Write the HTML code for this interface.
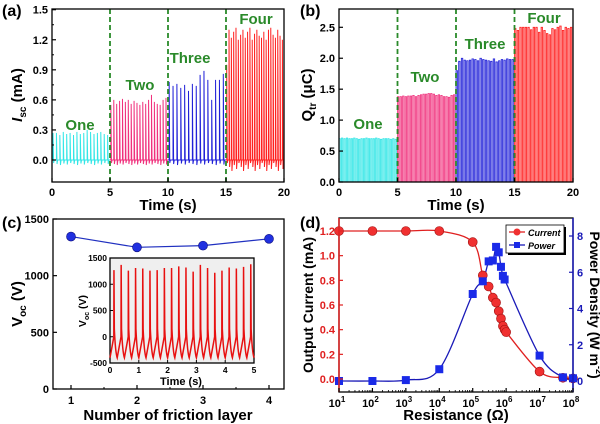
<!DOCTYPE html>
<html><head><meta charset="utf-8"><style>
body{margin:0;background:#fff}
svg{display:block;font-family:"Liberation Sans",sans-serif;font-weight:bold}
</style></head><body>
<svg id="s" width="600" height="424" viewBox="0 0 600 424"></svg>
<script>
// ---- data ----
const segA1=[0.27,0.27,0.25,0.28,0.26,0.27,0.25,0.28,0.26,0.27,0.30,0.28,0.26,0.27,0.28,0.26,0.25];
const segA2=[0.55,0.60,0.56,0.59,0.61,0.58,0.60,0.56,0.59,0.57,0.55,0.58,0.56,0.60,0.65,0.58,0.56,0.55,0.60,0.62];
const segA3=[0.78,0.74,0.76,0.72,0.75,0.69,0.76,0.74,0.85,0.89,0.80,0.60,0.80,0.80,0.86];
const segA4=[0.95,1.30,1.22,1.28,1.32,1.20,1.25,1.30,1.22,1.28,1.32,1.20,1.26,1.30,1.24,1.22,1.28,1.20,1.30,1.32,1.25,1.22,1.30,1.24,1.20];
const segB1=[0.70,0.71,0.70,0.71,0.70,0.70,0.71,0.70,0.69,0.70,0.70,0.71,0.70,0.70,0.70,0.71,0.70,0.69,0.70,0.70,0.70,0.69,0.70,0.69];
const segB2=[1.38,1.38,1.39,1.38,1.39,1.39,1.40,1.38,1.40,1.41,1.42,1.42,1.43,1.43,1.42,1.40,1.41,1.40,1.38,1.38,1.37,1.40,1.41];
const segB3=[1.80,1.95,2.00,1.97,1.96,1.97,1.99,1.98,1.96,2.00,1.98,1.97,1.96,1.95,1.99,1.94,1.96,1.98,1.97,1.99,1.98,1.98];
const segB4=[2.48,2.45,2.50,2.50,2.50,2.50,2.46,2.50,2.50,2.42,2.50,2.45,2.40,2.38,2.48,2.46,2.50,2.52,2.45,2.50,2.48,2.50];
const layers=[1,2,3,4];
const vocValues=[1345,1250,1265,1325];
const insetPeaks=[1270,1370,1260,1310,1300,1260,1270,1310,1310,1340,1320,1240,1370,1310,1220,1260,1320,1300,1330,1380];
const resCur=[10,100,1000,1e4,1e5,2e5,3e5,4e5,5e5,6e5,7e5,8e5,9e5,1e6,1e7,5e7,1e8];
const curVals=[1.2,1.2,1.2,1.2,1.11,0.84,0.75,0.66,0.62,0.55,0.49,0.43,0.40,0.38,0.06,0.01,0.005];
const resPow=[10,100,1000,1e4,1e5,2e5,3e5,4e5,5e5,6e5,7e5,8e5,9e5,1e7,5e7,1e8];
const powVals=[0,0,0.05,0.65,4.8,5.5,6.6,6.65,7.4,7.1,6.3,5.8,5.6,1.4,0.2,0.15];
const tickA=["0.0","0.3","0.6","0.9","1.2","1.5"];
const tickB=["0.0","0.5","1.0","1.5","2.0","2.5"];
const tickC=["0","500","1000","1500"];
const tickInY=["-500","0","500","1000","1500"];
const tickD=["0.0","0.2","0.4","0.6","0.8","1.0","1.2"];
const tickD2=["0","2","4","6","8"];

const S=document.getElementById('s');
const NS='http://www.w3.org/2000/svg';
function el(t,a,parent,txt){const e=document.createElementNS(NS,t);for(const k in a)e.setAttribute(k,a[k]);if(txt!==undefined)e.textContent=txt;(parent||S).appendChild(e);return e;}
function lin(d0,d1,p0,p1){return v=>p0+(v-d0)*(p1-p0)/(d1-d0);}
function text(x,y,s,size,anchor,fill,name,rot){const t=el('text',{x:x,y:y,'font-size':size,'text-anchor':anchor||'middle',fill:fill||'#000'},S,s);


if(rot)t.setAttribute('transform','rotate('+rot+' '+x+' '+y+')');return t;}
function box(x0,y0,x1,y1,name,fill){const r=el('rect',{x:x0,y:y0,width:x1-x0,height:y1-y0,fill:fill||'none',stroke:'#000','stroke-width':1.3});

return r;}
function path(d,stroke,w,name,extra){const p=el('path',Object.assign({d:d,fill:'none',stroke:stroke,'stroke-width':w},extra||{}));

return p;}
const cols=['#33e6e6','#f0307c','#2020d8','#ff2020'];
const green='#2a8a2a';

// ===== Panel A =====
(function(){
const X=lin(0,20,52,284),Y=lin(0,1.5,160,9.7);
const segs=[segA1,segA2,segA3,segA4];
segs.forEach((seg,i)=>{let d='';const n=seg.length;
 d+=`M${X(i*5)},${Y(0)}L${X(i*5+5)},${Y(0)}`;
 for(let k=0;k<n;k++){const t=i*5+(k+0.3)*5/n;const x=X(t);
  const neg=-0.03-0.02*((k*7)%5)/4*(i===3?4:1);
  d+=`M${x},${Y(0)}L${x},${Y(seg[k])}L${x+0.6},${Y(neg)}L${x+1.2},${Y(0)}`;}
 path(d,cols[i],1,'isc-series-'+(i+1));
});
[5,10,15].forEach(v=>path(`M${X(v)},9V182`,green,1.8,'divider-line',{'stroke-dasharray':'5,3'}));
box(52,9,284,182,'plot-a-frame');
tickA.forEach((s,i)=>{const v=parseFloat(s),y=Y(v);path(`M52,${y}h4`,'#000',1.2,'y-tick');text(48,y+4,s,11,'end','#000','y-tick-label');});
for(let v=0.15;v<1.5;v+=0.3)path(`M52,${Y(v)}h2`,'#000',1,'y-minor-tick');
[0,5,10,15,20].forEach(v=>{path(`M${X(v)},182v-4`,'#000',1.2,'x-tick');text(X(v),196,v,11,'middle','#000','x-tick-label');});
text(168,210,'Time (s)',15,'middle','#000','x-axis-title');
const t=text(22,95,'',15,'middle','#000','y-axis-title',-90);
t.innerHTML='<tspan font-style="italic">I</tspan><tspan font-size="10" dy="4">sc</tspan><tspan dy="-4"> (mA)</tspan>';
text(2,16,'(a)',16,'start','#000','panel-label-a');
text(80,130,'One',15,'middle',green,'label-one');
text(140,90,'Two',15,'middle',green,'label-two');
text(190,63,'Three',15,'middle',green,'label-three');
text(256,24,'Four',15,'middle',green,'label-four');
})();

// ===== Panel B =====
(function(){
const X=lin(0,20,339,573),Y=lin(0,2.5,182,27.3);
const segs=[segB1,segB2,segB3,segB4];
segs.forEach((seg,i)=>{let d='';const n=seg.length;const w=5/n;
 for(let k=0;k<n;k++){const x0=X(i*5+k*w),x1=X(i*5+(k+0.55)*w),x2=X(i*5+(k+1)*w);
  d+=`M${x0},${Y(0)}L${x0},${Y(seg[k])}L${x1},${Y(seg[k])}L${x1},${Y(0)}L${x2},${Y(0)}`;}
 const p=path(d,cols[i],0.8,'qtr-series-'+(i+1));p.setAttribute('fill',cols[i]);p.setAttribute('fill-opacity','0.35');
});
[5,10,15].forEach(v=>path(`M${X(v)},9V182`,green,1.8,'divider-line',{'stroke-dasharray':'5,3'}));
box(339,9,573,182,'plot-b-frame');
tickB.forEach(s=>{const y=Y(parseFloat(s));path(`M339,${y}h4`,'#000',1.2,'y-tick');text(335,y+4,s,11,'end','#000','y-tick-label');});
[0,5,10,15,20].forEach(v=>{path(`M${X(v)},182v-4`,'#000',1.2,'x-tick');text(X(v),196,v,11,'middle','#000','x-tick-label');});
text(456,210,'Time (s)',15,'middle','#000','x-axis-title');
const t=text(312,95,'',15,'middle','#000','y-axis-title',-90);
t.innerHTML='Q<tspan font-size="10" dy="4">tr</tspan><tspan dy="-4"> (μC)</tspan>';
text(300,16,'(b)',16,'start','#000','panel-label-b');
text(368,129,'One',15,'middle',green,'label-one');
text(425,82,'Two',15,'middle',green,'label-two');
text(485,49,'Three',15,'middle',green,'label-three');
text(544,23,'Four',15,'middle',green,'label-four');
})();

// ===== Panel C =====
(function(){
const X=lin(1,4,71,269),Y=lin(0,1500,389,219);
box(53,219,284,389,'plot-c-frame');
tickC.forEach(s=>{const y=Y(+s);path(`M53,${y}h4`,'#000',1.2,'y-tick');text(49,y+4,s,11,'end','#000','y-tick-label');});
[1,2,3,4].forEach(v=>{path(`M${X(v)},389v-4`,'#000',1.2,'x-tick');text(X(v),404,v,11,'middle','#000','x-tick-label');});
[1.5,2.5,3.5].forEach(v=>path(`M${X(v)},389v-2`,'#000',1,'x-minor-tick'));
text(168,420,'Number of friction layer',15,'middle','#000','x-axis-title');
const t=text(22,304,'',15,'middle','#000','y-axis-title',-90);
t.innerHTML='V<tspan font-size="10" dy="4">oc</tspan><tspan dy="-4"> (V)</tspan>';
text(2,228,'(c)',16,'start','#000','panel-label-c');
let d='';layers.forEach((l,i)=>d+=(i?'L':'M')+X(l)+','+Y(vocValues[i]));
path(d,'#2030c0',1.2,'voc-line');
layers.forEach((l,i)=>{const c=el('circle',{cx:X(l),cy:Y(vocValues[i]),r:4.5,fill:'#2030e0',stroke:'#101080','stroke-width':0.6});

});
// inset
const IX=lin(0,5,110,254),IY=lin(-500,1500,363,258);
box(110,258,254,363,'inset-frame','#efefef');
let dd='';const n=insetPeaks.length;const per=5/n;
for(let k=0;k<n;k++){const t0=k*per;const tp=t0+per*0.55;
 dd+=(k?'L':'M')+IX(t0)+','+IY(-400);
 dd+=`L${IX(tp-per*0.15)},${IY(-100)}L${IX(tp-per*0.02)},${IY(0)}L${IX(tp)},${IY(insetPeaks[k])}L${IX(tp+per*0.05)},${IY(150)}`;
 dd+=`Q${IX(tp+per*0.2)},${IY(-300)} ${IX(t0+per)},${IY(-400)}`;}
path(dd,'#e81010',1.5,'inset-voc-series');
tickInY.forEach(s=>{const y=IY(+s);path(`M110,${y}h3`,'#000',1,'inset-y-tick');text(107,y+3,s,8.5,'end','#000','inset-y-tick-label');});
[0,1,2,3,4,5].forEach(v=>{path(`M${IX(v)},363v-3`,'#000',1,'inset-x-tick');text(IX(v),373,v,8.5,'middle','#000','inset-x-tick-label');});
text(181,385,'Time (s)',11,'middle','#000','inset-x-axis-title');
const t2=text(86,311,'',10.5,'middle','#000','inset-y-axis-title',-90);
t2.innerHTML='V<tspan font-size="7" dy="3">oc</tspan><tspan dy="-3"> (V)</tspan>';
})();

// ===== Panel D =====
(function(){
const X=v=>339+(Math.log10(v)-1)*(234/7);
const Y=lin(0,1.2,379,231),Y2=lin(0,8,381,236);
box(339,218,573,392,'plot-d-frame');
function spline(xs,ys){let d='';const P=xs.map((x,i)=>[X(x),ys[i]]);
 for(let i=0;i<P.length;i++){if(!i){d='M'+P[0][0]+','+P[0][1];continue;}
  const p0=P[Math.max(i-2,0)],p1=P[i-1],p2=P[i],p3=P[Math.min(i+1,P.length-1)];
  d+=`C${p1[0]+(p2[0]-p0[0])/6},${p1[1]+(p2[1]-p0[1])/6} ${p2[0]-(p3[0]-p1[0])/6},${p2[1]-(p3[1]-p1[1])/6} ${p2[0]},${p2[1]}`;}
 return d;}
path(spline(resCur,curVals.map(Y)),'#e02020',1.3,'current-fit-line');
path(spline(resPow,powVals.map(Y2)),'#1a1ab8',1.3,'power-fit-line');
resCur.forEach((r,i)=>{const c=el('circle',{cx:X(r),cy:Y(curVals[i]),r:4.5,fill:'#f03030',stroke:'#a01010','stroke-width':0.6});

});
resPow.forEach((r,i)=>{const c=el('rect',{x:X(r)-4,y:Y2(powVals[i])-4,width:8,height:8,fill:'#1a2ae8'});

});
tickD.forEach(s=>{const y=Y(+s);path(`M339,${y}h4`,'#e02020',1.2,'y-tick');text(335,y+4,s,11,'end','#e02020','y-tick-label');});
tickD2.forEach(s=>{const y=Y2(+s);path(`M573,${y}h-4`,'#1a1ab8',1.2,'y2-tick');text(577,y+4,s,11,'start','#1a1ab8','y2-tick-label');});
path('M339,218V392','#e02020',1.5,'left-axis-line');
path('M573,218V392','#1a1ab8',1.5,'right-axis-line');
for(let e=1;e<=8;e++){path(`M${X(10**e)},392v-4`,'#000',1.2,'x-tick');
 const t=text(X(10**e)-2,407,'',11,'middle','#000','x-tick-label');t.innerHTML='10<tspan font-size="8" dy="-5">'+e+'</tspan>';
 if(e<8)for(let m=2;m<10;m++)path(`M${X(m*10**e)},392v-2`,'#000',0.8,'x-minor-tick');}
text(456,420,'Resistance (Ω)',15,'middle','#000','x-axis-title');
text(313,305,'Output Current (mA)',14,'middle','#000','y-axis-title',-90);
const t=text(590,305,'',14,'middle','#000','y2-axis-title',90);
t.innerHTML='Power Density (W m<tspan font-size="9" dy="-6">-2</tspan><tspan dy="6">)</tspan>';
text(300,228,'(d)',16,'start','#000','panel-label-d');
// legend
const g=el('g',{});
el('rect',{x:508,y:227,width:58,height:28,fill:'#000'},g);
el('rect',{x:506,y:225,width:58,height:28,fill:'#fff',stroke:'#000','stroke-width':0.8},g);
el('path',{d:'M509,232h16',stroke:'#e02020','stroke-width':1.3},g);
el('circle',{cx:517,cy:232,r:3.5,fill:'#f03030'},g);
el('text',{x:528,y:236,'font-size':9,'font-style':'italic',fill:'#000'},g,'Current');
el('path',{d:'M509,245h16',stroke:'#1a1ab8','stroke-width':1.3},g);
el('rect',{x:514,y:242,width:6,height:6,fill:'#1a2ae8'},g);
el('text',{x:528,y:249,'font-size':9,'font-style':'italic',fill:'#000'},g,'Power');
})();
</script>
</body></html>
